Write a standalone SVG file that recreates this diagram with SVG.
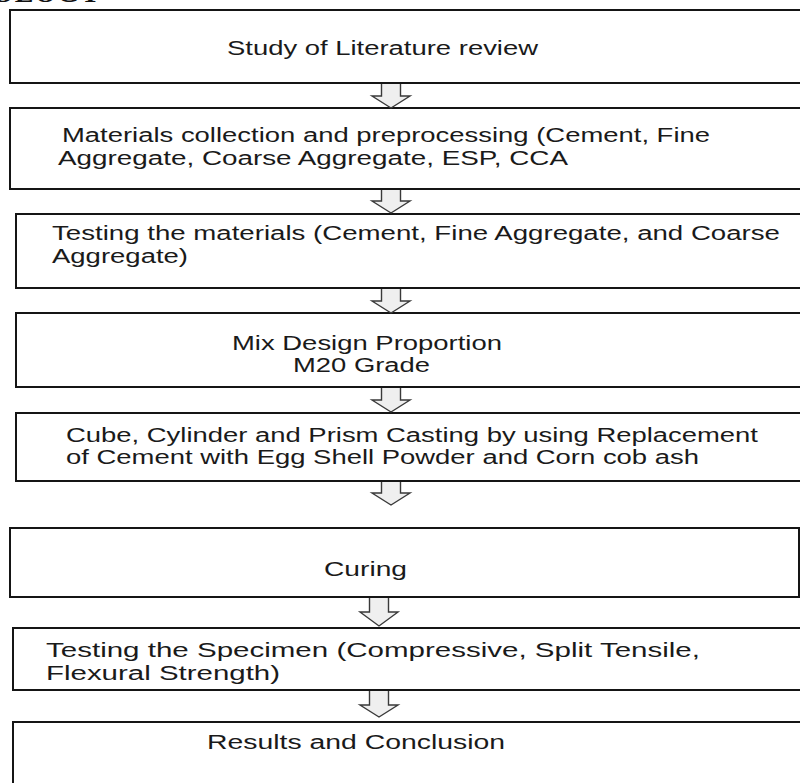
<svg xmlns="http://www.w3.org/2000/svg" width="800" height="783" viewBox="0 0 800 783">
<style>
.box{fill:#ffffff;stroke:#151515;stroke-width:2}
.lbl{font-family:"Liberation Sans",Arial,sans-serif;font-size:19.5px;fill:#1a1a1a}
.arr{fill:#efefef;stroke:#3a3a3a;stroke-width:1.4;stroke-linejoin:miter}
.head{font-family:"Liberation Serif","Times New Roman",serif;font-size:28px;font-weight:bold;fill:#111}
</style>
<rect width="800" height="783" fill="#ffffff"/>
<text class="head" x="-8" y="2" letter-spacing="1">OLOGY</text>
<g id="nodes">
<g id="n1">
<rect class="box" x="10" y="10" width="800" height="73"/>
<text class="lbl" x="227" y="55" textLength="311" lengthAdjust="spacingAndGlyphs">Study of Literature review</text>
</g>
<g id="n2">
<rect class="box" x="10" y="108" width="800" height="81"/>
<text class="lbl" x="62" y="142" textLength="648" lengthAdjust="spacingAndGlyphs">Materials collection and preprocessing (Cement, Fine</text>
<text class="lbl" x="58" y="165" textLength="510" lengthAdjust="spacingAndGlyphs">Aggregate, Coarse Aggregate, ESP, CCA</text>
</g>
<g id="n3">
<rect class="box" x="16" y="214" width="800" height="74"/>
<text class="lbl" x="52" y="240" textLength="728" lengthAdjust="spacingAndGlyphs">Testing the materials (Cement, Fine Aggregate, and Coarse</text>
<text class="lbl" x="52" y="263" textLength="136" lengthAdjust="spacingAndGlyphs">Aggregate)</text>
</g>
<g id="n4">
<rect class="box" x="16" y="313" width="800" height="74"/>
<text class="lbl" x="232" y="350" textLength="270" lengthAdjust="spacingAndGlyphs">Mix Design Proportion</text>
<text class="lbl" x="293" y="372" textLength="137" lengthAdjust="spacingAndGlyphs">M20 Grade</text>
</g>
<g id="n5">
<rect class="box" x="16" y="413" width="800" height="68"/>
<text class="lbl" x="66" y="442" textLength="692" lengthAdjust="spacingAndGlyphs">Cube, Cylinder and Prism Casting by using Replacement</text>
<text class="lbl" x="66" y="464" textLength="633" lengthAdjust="spacingAndGlyphs">of Cement with Egg Shell Powder and Corn cob ash</text>
</g>
<g id="n6">
<rect class="box" x="10" y="528" width="789" height="69"/>
<text class="lbl" x="324" y="576" textLength="83" lengthAdjust="spacingAndGlyphs">Curing</text>
</g>
<g id="n7">
<rect class="box" x="13" y="628" width="800" height="62"/>
<text class="lbl" x="46" y="657" textLength="654" lengthAdjust="spacingAndGlyphs">Testing the Specimen (Compressive, Split Tensile,</text>
<text class="lbl" x="46" y="680" textLength="234" lengthAdjust="spacingAndGlyphs">Flexural Strength)</text>
</g>
<g id="n8">
<rect class="box" x="13" y="722" width="800" height="100"/>
<text class="lbl" x="207" y="749" textLength="298" lengthAdjust="spacingAndGlyphs">Results and Conclusion</text>
</g>
</g>
<g id="connectors">
<path class="arr" d="M400.5,84 V96 H410 L391,108 L372,96 H381.5 V84"/>
<path class="arr" d="M400.5,190 V201 H410 L391,213 L372,201 H381.5 V190"/>
<path class="arr" d="M400.5,289 V301 H410 L391,313 L372,301 H381.5 V289"/>
<path class="arr" d="M400.5,388 V400 H410 L391,412 L372,400 H381.5 V388"/>
<path class="arr" d="M400.5,482 V493 H410 L391,505 L372,493 H381.5 V482"/>
<path class="arr" d="M388.5,598 V612 H398 L379,626 L360,612 H369.5 V598"/>
<path class="arr" d="M388.5,691 V705 H398 L379,717 L360,705 H369.5 V691"/>
</g>
</svg>
